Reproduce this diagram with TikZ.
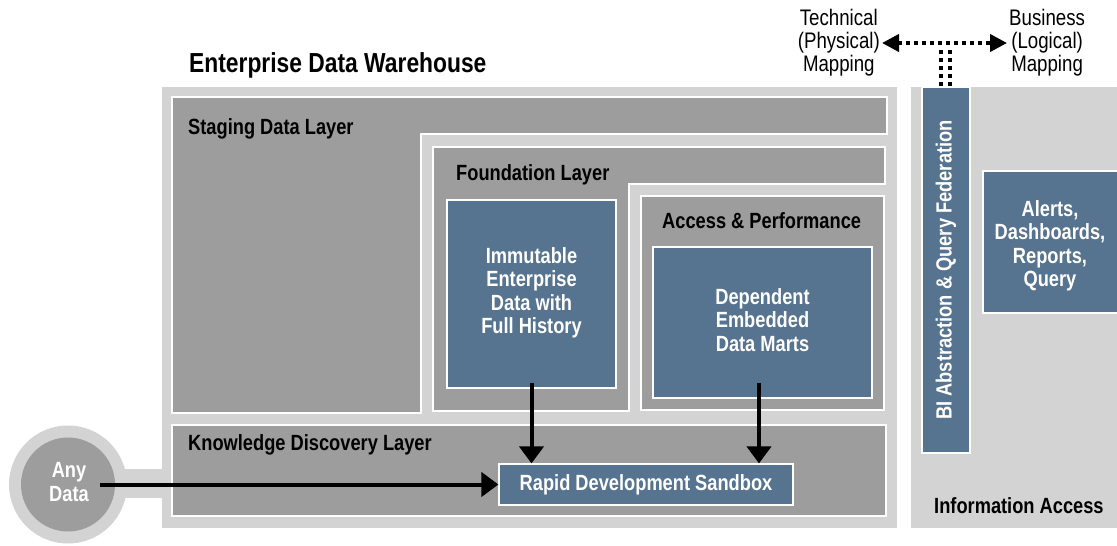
\documentclass[tikz,border=0pt]{standalone}
\usepackage{fontspec}
\setmainfont{Liberation Sans}[FakeStretch=0.83]
\usetikzlibrary{arrows.meta}
\definecolor{lgray}{HTML}{D3D3D3}
\definecolor{dgray}{HTML}{9D9D9D}
\definecolor{bblue}{HTML}{56738F}
\begin{document}
\begin{tikzpicture}[x=1pt,y=-1pt,
  layer/.style={fill=dgray,draw=white,line width=2pt},
  bluebox/.style={fill=bblue,draw=white,line width=1.2pt},
  ttl/.style={font=\fontsize{22}{23.5}\selectfont\bfseries,anchor=base west,inner sep=0pt},
  boxtxt/.style={font=\fontsize{22}{23.5}\selectfont\bfseries,text=white,align=center,inner sep=0pt},
  maptxt/.style={font=\fontsize{22.5}{23}\selectfont,align=center,inner sep=2pt},
  bigarrow/.style={line width=4pt,-{Triangle[length=17pt,width=24pt]}},
  dotline/.style={line width=4pt,dash pattern=on 4pt off 4pt}
]
\useasboundingbox (0,0) rectangle (1117,546);
% Enterprise data warehouse frame
\fill[lgray] (162,87) rectangle (897,528);
\node[ttl,font=\fontsize{27.5}{29}\selectfont\bfseries] (edw) at (189,72) {Enterprise Data Warehouse};
% Staging
\draw[layer] (172,97) -- (887,97) -- (887,134) -- (421,134) -- (421,413) -- (172,413) -- cycle;
\node[ttl] (stg) at (188,134) {Staging Data Layer};
% Foundation
\draw[layer] (433,147) -- (885,147) -- (885,184) -- (629,184) -- (629,411) -- (433,411) -- cycle;
\node[ttl] (fnd) at (456,180) {Foundation Layer};
% Access & Performance
\draw[layer] (641,196) rectangle (884,410);
\node[ttl] (acc) at (662,228) {Access \& Performance};
% Knowledge discovery
\draw[layer] (172,425) rectangle (886,516);
\node[ttl] (kdl) at (188,450) {Knowledge Discovery Layer};
% blue boxes
\node[bluebox,minimum width=169pt,minimum height=188pt] (imm) at (531.5,294) {};
\node[boxtxt] (immt) at (531.5,293) {Immutable\\Enterprise\\Data with\\Full History};
\node[bluebox,minimum width=219pt,minimum height=151pt] (dep) at (762.5,322.5) {};
\node[boxtxt] (dept) at (762.5,320) {Dependent\\Embedded\\Data Marts};
\node[bluebox,minimum width=294pt,minimum height=41pt] (sand) at (646,484.5) {};
\node[boxtxt] (sandt) at (646,484.5) {Rapid Development Sandbox};
% Any data
\fill[lgray] (100,469) rectangle (163,498);
\node[circle,fill=lgray,minimum size=118pt,inner sep=0pt] (anyo) at (68,484.5) {};
\node[circle,fill=dgray,minimum size=94pt,inner sep=0pt] (any) at (68,484.5) {};
\node[boxtxt] (anyt) at (69,482) {Any\\Data};
% arrows
\draw[bigarrow] ([xshift=32pt]any.center) -- (sand.west);
\draw[bigarrow] ([yshift=6pt]imm.south) -- (imm.south |- sand.north);
\draw[bigarrow] ([xshift=-3.5pt,yshift=16pt]dep.south) -- ([xshift=-3.5pt]dep.south |- sand.north);
% Information access
\fill[lgray] (911,87) rectangle (1117,528);
\node[bluebox,rotate=90,minimum width=366pt,minimum height=48pt] (bi) at (946,270) {};
\node[boxtxt,rotate=90] (bit) at (946,270) {BI Abstraction \& Query Federation};
\path[fill=bblue,draw=white,line width=1.2pt] (983,171) rectangle (1125,313);
\node[boxtxt] (alerts) at (1050,246) {Alerts,\\Dashboards,\\Reports,\\Query};
\node[ttl] (ia) at (934,513) {Information Access};
% mapping
\node[maptxt,anchor=east] (tech) at (882,43) {Technical\\(Physical)\\Mapping};
\node[maptxt,anchor=west] (bus) at (1007,43) {Business\\(Logical)\\Mapping};
\draw[dotline,{Triangle[length=17pt,width=17pt]}-{Triangle[length=17pt,width=17pt]}] (tech.east) -- (bus.west);
\coordinate (d1) at ([xshift=-5.5pt]bi.east);
\coordinate (d2) at ([xshift=3.5pt]bi.east);
\draw[dotline] (d1) -- (d1 |- 0,47);
\draw[dotline] (d2) -- (d2 |- 0,47);
\end{tikzpicture}
\end{document}
